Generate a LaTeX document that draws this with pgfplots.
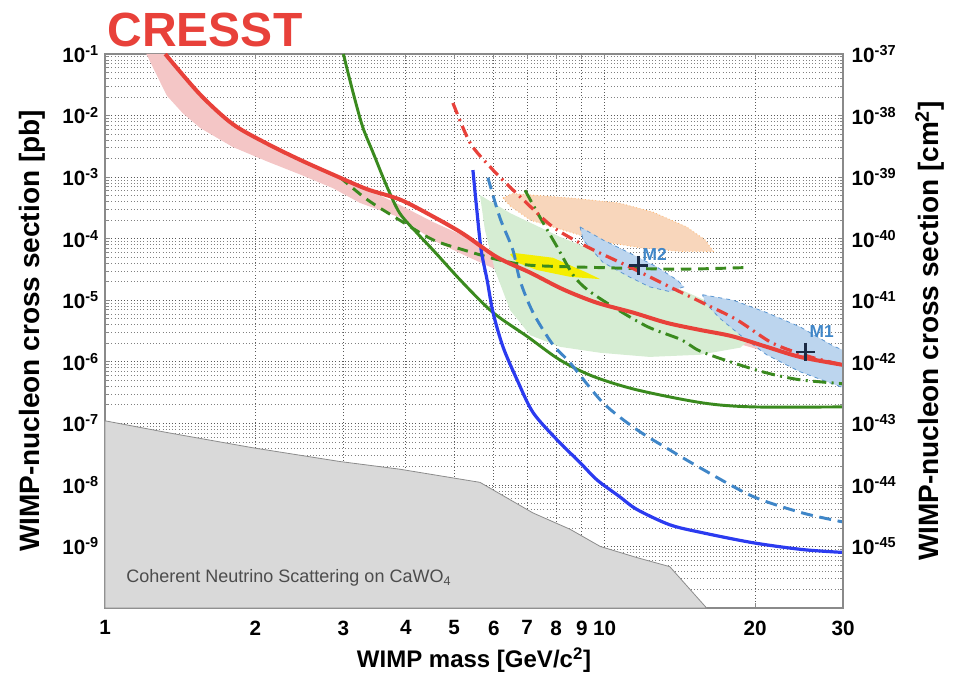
\documentclass[border=0pt]{standalone}
\usepackage{fontspec}
\setmainfont{Liberation Sans}
\usepackage{pgfplots}
\pgfplotsset{compat=1.18}
\definecolor{cred}{HTML}{E8413A}
\definecolor{cpink}{HTML}{F4C6C6}
\definecolor{cgreen}{HTML}{3A8A1E}
\definecolor{cgreenfill}{HTML}{D6EDD3}
\definecolor{cblue}{HTML}{2B3BF0}
\definecolor{csteel}{HTML}{3F86C8}
\definecolor{cpeach}{HTML}{F8D6BB}
\definecolor{cmfill}{HTML}{BCD5EE}
\definecolor{cmedge}{HTML}{5A96D2}
\definecolor{cyellow}{HTML}{F5EE00}
\definecolor{cfloor}{HTML}{D9D9D9}
\definecolor{cnavy}{HTML}{1C2B45}
\definecolor{cframe}{HTML}{8A8A8A}
\begin{document}
\begin{tikzpicture}
\useasboundingbox (-78.75pt,-51.75pt) rectangle (637.5pt,456pt);
\begin{axis}[
  at={(0,0)}, anchor=south west, scale only axis,
  width=553.5pt, height=415.5pt,
  xmode=log, ymode=log,
  xmin=1, xmax=30, ymin=1e-10, ymax=1e-1,
  axis line style={cframe, line width=1pt},
  tick align=inside,
  major tick length=4pt, minor tick length=2pt,
  every tick/.style={cframe, line width=0.5pt},
  xtick={1,2,3,4,5,6,7,8,9,10,20,30},
  xticklabels={1,2,3,4,5,6,7,8,9,10,20,30},
  ytick={1e-9,1e-8,1e-7,1e-6,1e-5,1e-4,1e-3,1e-2,1e-1},
  yticklabels={10\textsuperscript{-9},10\textsuperscript{-8},10\textsuperscript{-7},10\textsuperscript{-6},10\textsuperscript{-5},10\textsuperscript{-4},10\textsuperscript{-3},10\textsuperscript{-2},10\textsuperscript{-1}},
  minor xtick={},
  minor ytick={2e-10,3e-10,4e-10,5e-10,6e-10,7e-10,8e-10,9e-10,
    2e-9,3e-9,4e-9,5e-9,6e-9,7e-9,8e-9,9e-9,
    2e-8,3e-8,4e-8,5e-8,6e-8,7e-8,8e-8,9e-8,
    2e-7,3e-7,4e-7,5e-7,6e-7,7e-7,8e-7,9e-7,
    2e-6,3e-6,4e-6,5e-6,6e-6,7e-6,8e-6,9e-6,
    2e-5,3e-5,4e-5,5e-5,6e-5,7e-5,8e-5,9e-5,
    2e-4,3e-4,4e-4,5e-4,6e-4,7e-4,8e-4,9e-4,
    2e-3,3e-3,4e-3,5e-3,6e-3,7e-3,8e-3,9e-3,
    2e-2,3e-2,4e-2,5e-2,6e-2,7e-2,8e-2,9e-2},
  grid=both,
  major grid style={dotted, black!65, line width=0.55pt},
  minor grid style={dotted, black!50, line width=0.5pt},
  ticklabel style={font=\fontsize{15.5}{18}\selectfont\bfseries},
  xticklabel style={yshift=-6pt},
  yticklabel style={xshift=-1pt},
]
% neutrino floor
\addplot[fill=cfloor, draw=black!45, line width=0.6pt] coordinates {
 (1,1.1e-7) (1.33,7.1e-8) (1.98,4.0e-8) (2.95,2.4e-8) (3.89,1.8e-8) (5.63,1.1e-8)
 (7.19,3.5e-9) (8.53,1.9e-9) (9.8,1.0e-9) (11.6,6.6e-10) (13.5,4.7e-10) (16.0,1e-10)
 (1,1e-10)} -- cycle;
% pink band
\addplot[fill=cpink, draw=none] coordinates {
 (1.21,0.1) (1.32,0.1) (1.55,2.2e-2) (1.80,7.3e-3) (2.11,3.5e-3) (2.46,1.9e-3) (2.86,1.1e-3)
 (3.34,6.4e-4) (3.90,3.5e-4) (4.53,1.87e-4) (5.21,1.12e-4) (6.09,4.7e-5) (7.10,2.5e-5)
 (8.26,1.5e-5) (9.8,1.1e-5) (11.4,8.5e-6) (13.3,6.3e-6) (15.5,4.8e-6) (18.0,3.6e-6)
 (21.1,2.45e-6) (24.6,1.7e-6) (30,1.26e-6)
 (30,6.9e-7) (24.6,1.0e-6) (21.1,1.45e-6) (18.0,2.1e-6) (15.5,2.8e-6) (13.3,3.7e-6)
 (11.4,4.8e-6) (9.8,6.3e-6) (8.26,9.1e-6) (7.10,1.8e-5) (6.09,3.1e-5) (5.21,5.5e-5)
 (4.53,9.5e-5) (3.90,2.2e-4) (3.24,3.8e-4) (2.86,6.6e-4) (2.46,1.1e-3) (2.11,1.8e-3)
 (1.80,3.1e-3) (1.55,6.3e-3) (1.43,1.1e-2) (1.33,2.1e-2)} -- cycle;
% green region
\addplot[fill=cgreenfill, draw=none] coordinates {
 (5.63,5.1e-4) (6.47,2.6e-4) (8.14,1.07e-4) (10.25,5.0e-5) (12.9,2.1e-5) (16.3,9.1e-6)
 (18.9,4.8e-6) (20.2,3.0e-6) (18.7,1.7e-6) (15.5,1.3e-6) (12.3,1.2e-6) (9.8,1.4e-6)
 (8.14,1.75e-6) (7.10,2.7e-6) (6.47,6.9e-6) (6.03,3.1e-5) (5.76,1.38e-4)} -- cycle;
% peach region
\addplot[fill=cpeach, draw=orange!60, dotted, line width=0.6pt] coordinates {
 (6.26,4.6e-4) (6.55,5.4e-4) (8.53,4.6e-4) (10.7,3.8e-4) (12.5,2.7e-4) (14.6,1.55e-4)
 (15.9,9.5e-5) (16.5,6.2e-5) (14.2,6.2e-5) (11.8,7.1e-5) (9.8,9.1e-5) (8.26,1.38e-4)
 (7.10,2.0e-4) (6.47,3.4e-4)} -- cycle;
% M2 region
\addplot[fill=cmfill, draw=cmedge, dashed, line width=0.6pt] coordinates {
 (8.93,1.55e-4) (9.93,9.5e-5) (11.2,5.9e-5) (12.7,3.5e-5) (14.0,2.1e-5) (14.4,1.65e-5)
 (13.5,1.38e-5) (12.3,1.65e-5) (11.2,2.4e-5) (9.93,4.1e-5) (9.06,9.5e-5)} -- cycle;
% M1 region
\addplot[fill=cmfill, draw=cmedge, dashed, line width=0.6pt] coordinates {
 (15.7,1.23e-5) (18.1,1.0e-5) (21.1,6.3e-6) (24.6,3.7e-6) (28.7,1.8e-6) (30,1.55e-6)
 (30,3.8e-7) (24.6,6.9e-7) (21.1,1.3e-6) (18.7,2.7e-6) (17.0,5.1e-6) (15.9,9.1e-6)} -- cycle;
% yellow region
\addplot[fill=cyellow, draw=none] coordinates {
 (6.47,5.5e-5) (6.55,5.9e-5) (7.88,4.9e-5) (9.22,2.8e-5) (9.8,2.2e-5)
 (8.53,2.4e-5) (7.32,3.1e-5) (6.68,4.1e-5)} -- cycle;
% green solid
\addplot[cgreen, line width=2.2pt, smooth] coordinates {
 (3.0,0.1) (3.14,2.3e-2) (3.28,6.5e-3) (3.44,2.5e-3) (3.67,6.9e-4) (3.89,2.6e-4)
 (4.21,1.24e-4) (4.53,6.6e-5) (5.21,1.9e-5) (5.98,6.3e-6) (6.99,2.6e-6) (8.14,1.07e-6)
 (9.48,5.8e-7) (11.6,3.5e-7) (15.7,2.15e-7) (19.8,1.85e-7) (30,1.85e-7)};
% green dashed
\addplot[cgreen, line width=2.2pt, dash pattern=on 8pt off 5pt, smooth] coordinates {
 (2.95,1.0e-3) (3.35,4.3e-4) (3.89,2.0e-4) (4.53,9.6e-5) (5.21,6.6e-5) (6.09,4.6e-5)
 (7.10,3.7e-5) (9.65,3.4e-5) (14.1,3.2e-5) (19.3,3.4e-5)};
% green dash-dot
\addplot[cgreen, line width=2.2pt, dash pattern=on 10pt off 4pt on 1.5pt off 4pt, smooth] coordinates {
 (6.93,6.1e-4) (7.43,2.2e-4) (8.03,7.4e-5) (8.64,2.6e-5) (9.22,1.5e-5) (10.4,7.8e-6)
 (12.2,3.7e-6) (14.2,2.3e-6) (15.5,1.5e-6) (18.1,9.6e-7) (21.1,6.6e-7) (24.6,5.1e-7) (30,4.4e-7)};
% blue solid
\addplot[cblue, line width=2.4pt, smooth] coordinates {
 (5.45,1.3e-3) (5.55,2.9e-4) (5.66,6.6e-5) (5.82,2.1e-5) (5.98,6.3e-6) (6.26,1.75e-6)
 (6.68,5.1e-7) (7.19,1.5e-7) (8.03,5.4e-8) (8.93,2.3e-8) (9.66,1.2e-8) (10.7,6.5e-9)
 (11.6,4.0e-9) (13.5,2.25e-9) (15.7,1.67e-9) (19.8,1.15e-9) (24.9,8.9e-10) (30,8.0e-10)};
% blue dashed
\addplot[csteel, line width=2.2pt, dash pattern=on 9pt off 5pt, smooth] coordinates {
 (5.84,9.8e-4) (6.17,2.2e-4) (6.55,6.6e-5) (6.77,2.1e-5) (7.19,6.3e-6) (7.88,1.9e-6)
 (8.53,9.6e-7) (9.93,2.15e-7) (11.6,7.9e-8) (13.5,3.7e-8) (15.7,1.8e-8) (19.8,6.5e-9)
 (24.9,3.5e-9) (30,2.5e-9)};
% red dash-dot
\addplot[cred, line width=2.4pt, dash pattern=on 9pt off 4pt on 1.5pt off 4pt, smooth] coordinates {
 (4.97,1.6e-2) (5.38,3.6e-3) (5.90,1.47e-3) (6.26,8.9e-4) (6.87,4.3e-4) (7.88,1.55e-4)
 (9.22,7.4e-5) (11.2,3.5e-5) (13.5,1.65e-5) (15.7,9.1e-6) (18.4,4.8e-6) (21.7,2.0e-6)
 (25.8,1.2e-6) (30,8.9e-7)};
% red solid
\addplot[cred, line width=3pt, smooth] coordinates {
 (1.32,0.1) (1.55,2.2e-2) (1.80,7.3e-3) (2.11,3.5e-3) (2.46,1.9e-3) (2.86,1.1e-3)
 (3.34,6.4e-4) (3.90,4.3e-4) (4.53,2.3e-4) (5.21,1.2e-4) (6.09,5.0e-5) (7.10,2.8e-5)
 (8.26,1.5e-5) (9.65,9.1e-6) (11.4,6.3e-6) (13.3,4.3e-6) (15.5,3.3e-6) (18.0,2.6e-6)
 (21.1,1.75e-6) (24.6,1.2e-6) (30,8.9e-7)};
% best-fit points
\addplot[only marks, mark=+, mark size=7pt, cnavy, line width=2pt] coordinates {
 (11.7,3.7e-5) (25.2,1.45e-6)};
\node[text=csteel, font=\fontsize{13}{15}\selectfont\bfseries] at (axis cs:12.6,5.6e-5) {M2};
\node[text=csteel, font=\fontsize{13}{15}\selectfont\bfseries] at (axis cs:27.2,3.1e-6) {M1};
\node[anchor=west, text=black!70, font=\fontsize{13.5}{16}\selectfont] at (axis cs:1.08,3.1e-10)
  {Coherent Neutrino Scattering on CaWO\textsubscript{4}};
\end{axis}
\begin{axis}[
  at={(0,0)}, anchor=south west, scale only axis,
  width=553.5pt, height=415.5pt,
  xmode=log, ymode=log,
  xmin=1, xmax=30, ymin=1e-46, ymax=1e-37,
  hide x axis,
  axis y line*=right,
  axis line style={cframe, line width=1pt},
  major tick length=0pt, minor tick length=0pt,
  ytick={1e-45,1e-44,1e-43,1e-42,1e-41,1e-40,1e-39,1e-38,1e-37},
  yticklabels={10\textsuperscript{-45},10\textsuperscript{-44},10\textsuperscript{-43},10\textsuperscript{-42},10\textsuperscript{-41},10\textsuperscript{-40},10\textsuperscript{-39},10\textsuperscript{-38},10\textsuperscript{-37}},
  minor ytick={},
  ticklabel style={font=\fontsize{15.5}{18}\selectfont\bfseries},
  yticklabel style={xshift=3pt},
]
\end{axis}
\node[font=\fontsize{18}{21}\selectfont\bfseries] at (276.75pt,-39pt) {WIMP mass [GeV/c\textsuperscript{2}]};
\node[rotate=90, font=\fontsize{21}{24}\selectfont\bfseries] at (-54.75pt,207.75pt) {WIMP-nucleon cross section [pb]};
\node[rotate=90, font=\fontsize{21}{24}\selectfont\bfseries] at (618.75pt,207.75pt) {WIMP-nucleon cross section [cm\textsuperscript{2}]};
\node[text=cred, font=\fontsize{36}{40}\selectfont\bfseries] at (75pt,433.5pt) {CRESST};
\end{tikzpicture}
\end{document}
